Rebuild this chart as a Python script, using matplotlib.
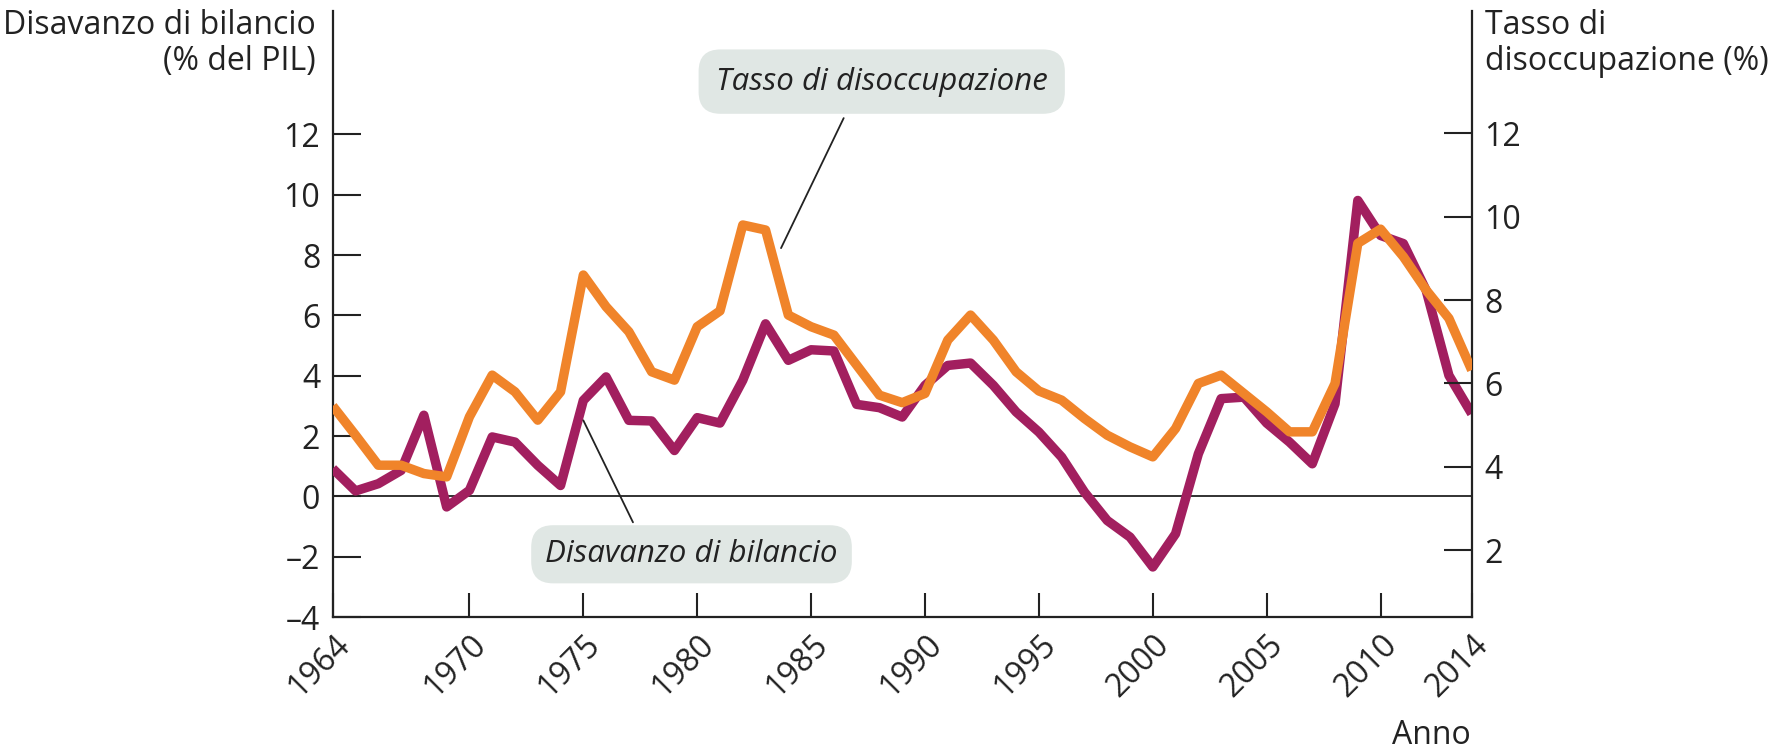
import matplotlib
matplotlib.use('Agg')
import matplotlib.pyplot as plt

plt.rcParams['font.family'] = ['Open Sans', 'DejaVu Sans']

# Data
years = list(range(1964, 2015))
deficit = [0.92, 0.18, 0.42, 0.86, 2.69, -0.35, 0.20, 1.97, 1.80, 1.03,
           0.36, 3.18, 3.96, 2.52, 2.50, 1.52, 2.61, 2.43, 3.85, 5.72,
           4.51, 4.86, 4.82, 3.05, 2.94, 2.63, 3.68, 4.34, 4.42, 3.68,
           2.80, 2.13, 1.30, 0.14, -0.80, -1.35, -2.34, -1.24, 1.41, 3.24,
           3.29, 2.43, 1.80, 1.08, 3.07, 9.81, 8.65, 8.38, 6.83, 4.01,
           2.74]
unemployment = [5.46, 4.76, 4.04, 4.04, 3.84, 3.76, 5.20, 6.20, 5.80, 5.12,
                5.80, 8.60, 7.84, 7.24, 6.28, 6.08, 7.36, 7.74, 9.80, 9.68,
                7.64, 7.36, 7.16, 6.44, 5.72, 5.54, 5.76, 7.04, 7.64, 7.04,
                6.28, 5.82, 5.60, 5.16, 4.76, 4.48, 4.24, 4.92, 6.00, 6.20,
                5.76, 5.32, 4.84, 4.84, 6.00, 9.36, 9.70, 9.04, 8.24, 7.56,
                6.32]

x_ticks = [1964, 1970, 1975, 1980, 1985, 1990, 1995, 2000, 2005, 2010, 2014]
left_ticks = [-4, -2, 0, 2, 4, 6, 8, 10, 12]
right_ticks = [2, 4, 6, 8, 10, 12]

purple = '#A21F5F'
orange = '#F0842A'
box_color = '#E0E7E4'
ink = '#222222'
fs = 23

fig = plt.figure(figsize=(17.88, 7.5), dpi=100)
ax = fig.add_axes([0.1861, 0.1773, 0.6370, 0.8080])
ax2 = ax.twinx()

# zero line + deficit on the left axis
ax.axhline(0, color=ink, lw=1.3, zorder=1)
ax.plot(years, deficit, color=purple, lw=6.8, zorder=3, solid_capstyle='butt')

# unemployment on the right axis (drawn on top)
ax2.plot(years, unemployment, color=orange, lw=6.8, zorder=3, solid_capstyle='butt')

ax.set_xlim(1964, 2014)
ax.set_ylim(-4, 16.09)
ax2.set_ylim(0.40, 14.93)

ax.set_xticks(x_ticks)
ax.set_xticklabels([str(t) for t in x_ticks], rotation=45, ha='right', va='top',
                   rotation_mode='anchor')
ax.set_yticks(left_ticks)
ax.set_yticklabels(['\u2013' + str(-t) if t < 0 else str(t) for t in left_ticks])
ax2.set_yticks(right_ticks)

ax.tick_params(axis='x', direction='in', length=17, width=1.5, color=ink,
               labelsize=fs, labelcolor=ink, pad=8)
ax.tick_params(axis='y', direction='in', length=20, width=1.5, color=ink,
               labelsize=fs, labelcolor=ink, pad=9)
ax2.tick_params(axis='y', direction='in', length=20, width=1.5, color=ink,
                labelsize=fs, labelcolor=ink, pad=9)

for s in ['top', 'right']:
    ax.spines[s].set_visible(False)
for s in ['top', 'left', 'bottom']:
    ax2.spines[s].set_visible(False)
for a, names in [(ax, ['left', 'bottom']), (ax2, ['right'])]:
    for s in names:
        a.spines[s].set_linewidth(1.6)
        a.spines[s].set_color(ink)

# axis titles
fig.text(316 / 1788, 1 - 9 / 750, 'Disavanzo di bilancio\n(% del PIL)', ha='right', va='top',
         multialignment='right', fontsize=fs, color=ink, linespacing=1.12)
fig.text(1485 / 1788, 1 - 9 / 750, 'Tasso di\ndisoccupazione (%)', ha='left', va='top',
         multialignment='left', fontsize=fs, color=ink, linespacing=1.12)
fig.text(1471 / 1788, 6 / 750, 'Anno', ha='right', va='baseline', fontsize=fs, color=ink)

# callout labels
ax.annotate('', xy=(1983.68, 8.23), xytext=(1986.43, 12.54),
            arrowprops=dict(arrowstyle='-', color=ink, lw=1.3, shrinkA=0, shrinkB=0))
ax.text(1988.1, 13.75, 'Tasso di disoccupazione', ha='center', va='center',
        fontsize=22.5, style='italic', color=ink, zorder=5,
        bbox=dict(boxstyle='round,pad=0.55,rounding_size=0.7', fc=box_color, ec='none'))

ax.annotate('', xy=(1975.0, 2.52), xytext=(1977.18, -0.86),
            arrowprops=dict(arrowstyle='-', color=ink, lw=1.3, shrinkA=0, shrinkB=0))
ax.text(1979.75, -1.92, 'Disavanzo di bilancio', ha='center', va='center',
        fontsize=22.5, style='italic', color=ink, zorder=5,
        bbox=dict(boxstyle='round,pad=0.45,rounding_size=0.7', fc=box_color, ec='none'))

fig.savefig('out.png', dpi=100)
